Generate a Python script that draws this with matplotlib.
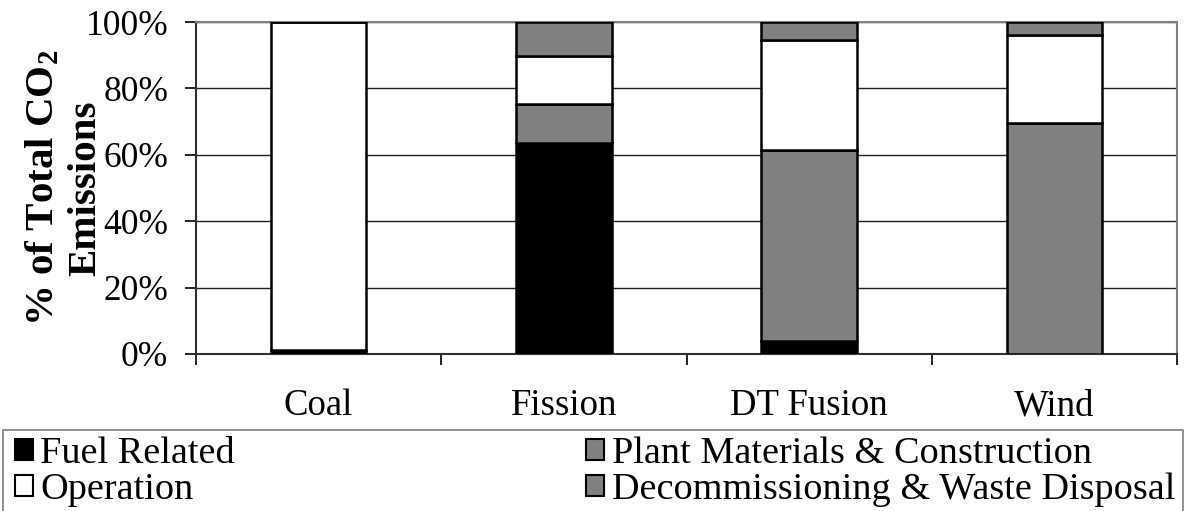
import matplotlib
matplotlib.use("Agg")
import matplotlib.pyplot as plt
import numpy as np
from matplotlib.patches import Rectangle, Patch

# Share of life-cycle CO2 emissions by source (%)
sources = ["Coal", "Fission", "DT Fusion", "Wind"]
fuel_related = [1.3, 63.6, 3.9, 0.0]
plant_construction = [0.0, 11.7, 57.5, 69.6]
operation = [98.7, 14.6, 33.3, 26.5]
decommissioning = [0.0, 10.1, 5.3, 3.9]

series_names = ["Fuel Related", "Plant Materials & Construction",
                "Operation", "Decommissioning & Waste Disposal"]
series_colors = ["#000000", "#808080", "#ffffff", "#808080"]
y_ticks = [0, 20, 40, 60, 80, 100]

plt.rcParams["font.family"] = ["Liberation Serif", "DejaVu Serif"]
plt.rcParams["mathtext.default"] = "regular"

fig = plt.figure(figsize=(11.85, 5.11), dpi=100)
ax = fig.add_axes([196 / 1185, 1 - 354 / 511, (1177 - 196) / 1185, (354 - 22) / 511])

x = np.arange(len(sources))
bottom = np.zeros(len(sources))
for vals, name, col in zip([fuel_related, plant_construction, operation, decommissioning],
                           series_names, series_colors):
    vals = np.array(vals)
    ax.bar(x, vals, width=0.39, bottom=bottom, color=col, edgecolor="black",
           linewidth=1.8, label=name, zorder=3)
    bottom += vals

ax.set_xlim(-0.5, len(sources) - 0.5)
ax.set_ylim(0, 100)

# gridlines
ax.set_yticks(y_ticks)
ax.set_yticklabels([f"{t}%" for t in y_ticks], fontsize=25.5)
ax.yaxis.grid(True, color="#202020", linewidth=1.0, zorder=0)
ax.tick_params(axis="y", direction="out", length=8, width=1.2, pad=12)

# category separators as major ticks, names as minor ticks
ax.set_xticks(np.arange(len(sources) + 1) - 0.5)
ax.set_xticklabels([])
ax.set_xticks(x, minor=True)
ax.set_xticklabels(sources, minor=True, fontsize=26.5)
ax.tick_params(axis="x", which="major", direction="out", length=8, width=1.2)
ax.tick_params(axis="x", which="minor", length=0, pad=25)

for side in ["top", "right"]:
    ax.spines[side].set_color("#808080")
    ax.spines[side].set_linewidth(1.5)
for side in ["left", "bottom"]:
    ax.spines[side].set_color("#303030")
    ax.spines[side].set_linewidth(1.5)

fig.text(64 / 1185, 1 - 188 / 511, "% of Total CO$_2$\nEmissions", rotation=90,
         ha="center", va="center", multialignment="center", fontsize=29.5,
         fontweight="bold", linespacing=1.18)

# legend box along the bottom edge
fig.patches.append(Rectangle((3 / 1185, -0.1), 1180 / 1185, 0.1 + (511 - 430) / 511,
                             transform=fig.transFigure, facecolor="white",
                             edgecolor="#808080", linewidth=1.2))
order = [0, 2, 1, 3]
handles = [Patch(facecolor=series_colors[i], edgecolor="black", linewidth=1.5)
           for i in order]
labels = [series_names[i] for i in order]
fig.legend(handles, labels, ncol=2, mode="expand", frameon=False, fontsize=27.5,
           loc="upper left",
           bbox_to_anchor=(15 / 1185, 1 - 437 / 511, (1175 - 15) / 1185, 0.001),
           borderpad=0, borderaxespad=0, handlelength=0.46, handleheight=0.46,
           handletextpad=0.2, labelspacing=0.05, columnspacing=0.5)

fig.savefig("out.png", dpi=100)
